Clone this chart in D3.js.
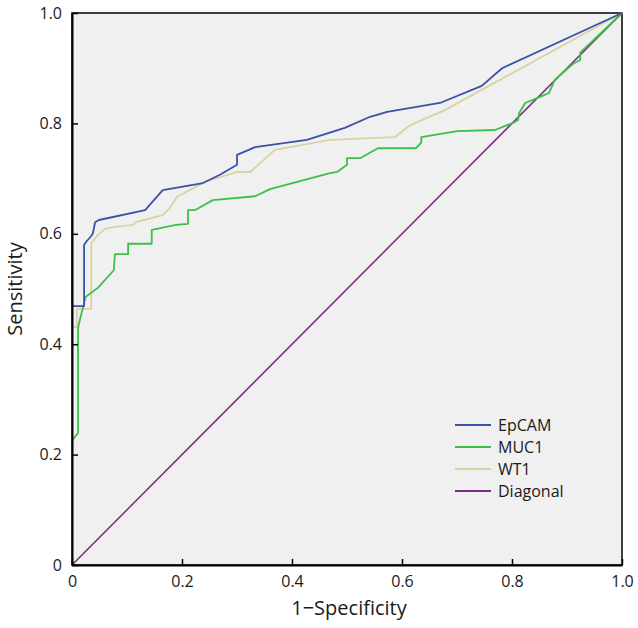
<!DOCTYPE html>
<html><head><meta charset="utf-8">
<script src="https://cdn.jsdelivr.net/npm/d3@7"></script>
<style>body{margin:0;background:#fff;} text{font-family:"Open Sans","Noto Sans",sans-serif;fill:#1a1a1a;}</style>
</head><body>
<svg id="chart" width="638" height="628"></svg>
<script>
const epcamFPR = [0,0,0.022,0.022,0.027,0.035,0.038,0.042,0.049,0.133,0.165,0.238,0.269,0.300,0.300,0.333,0.427,0.496,0.542,0.573,0.669,0.745,0.782,1];
const epcamTPR = [0,0.469,0.469,0.580,0.587,0.596,0.601,0.621,0.625,0.643,0.679,0.692,0.707,0.725,0.743,0.757,0.770,0.792,0.812,0.821,0.837,0.868,0.900,1];

const muc1FPR = [0,0,0.011,0.011,0.015,0.025,0.047,0.076,0.078,0.102,0.102,0.145,0.145,0.189,0.211,0.211,0.224,0.256,0.333,0.360,0.469,0.482,0.500,0.500,0.524,0.556,0.625,0.635,0.635,0.700,0.769,0.802,0.811,0.813,0.824,0.851,0.867,0.878,0.911,0.924,0.924,1];
const muc1TPR = [0,0.226,0.239,0.429,0.447,0.486,0.502,0.534,0.563,0.563,0.582,0.582,0.607,0.616,0.618,0.643,0.643,0.661,0.668,0.681,0.710,0.712,0.725,0.737,0.737,0.755,0.755,0.765,0.775,0.786,0.788,0.801,0.806,0.819,0.837,0.848,0.855,0.879,0.908,0.915,0.928,1];

const wt1FPR = [0,0,0.009,0.009,0.035,0.035,0.047,0.060,0.075,0.111,0.116,0.165,0.178,0.191,0.242,0.300,0.324,0.369,0.469,0.587,0.615,0.678,0.705,1];
const wt1TPR = [0,0.431,0.431,0.464,0.464,0.583,0.598,0.609,0.612,0.616,0.621,0.634,0.647,0.667,0.694,0.712,0.712,0.752,0.770,0.775,0.797,0.824,0.839,1];

const diagFPR = [0,1];
const diagTPR = [0,1];

const seriesNames = ["EpCAM","MUC1","WT1","Diagonal"];
const seriesColors = ["#3b52a8","#3dbf4a","#d9d2a3","#7a2a82"];
const tickValues = [0,0.2,0.4,0.6,0.8,1.0];
const tickLabels = ["0","0.2","0.4","0.6","0.8","1.0"];

const svg = d3.select("#chart");
const L = 72, R = 622, T = 13, B = 565;
const x = d3.scaleLinear().domain([0,1]).range([L,R]);
const y = d3.scaleLinear().domain([0,1]).range([B,T]);

svg.append("rect").attr("x",L).attr("y",T).attr("width",R-L).attr("height",B-T)
  .attr("fill","#f0f0f0").attr("stroke","#000").attr("stroke-width",1.5);

const series = [
  {name:seriesNames[0], fx:epcamFPR, ty:epcamTPR, c:seriesColors[0]},
  {name:seriesNames[1], fx:muc1FPR, ty:muc1TPR, c:seriesColors[1]},
  {name:seriesNames[2], fx:wt1FPR, ty:wt1TPR, c:seriesColors[2]},
  {name:seriesNames[3], fx:diagFPR, ty:diagTPR, c:seriesColors[3]}
];
const line = d3.line().x(d=>x(d[0])).y(d=>y(d[1]));
[3,2,1,0].forEach(i=>{
  const s = series[i];
  svg.append("path").datum(s.fx.map((v,k)=>[v,s.ty[k]]))
    .attr("d",line).attr("fill","none").attr("stroke",s.c)
    .attr("stroke-width",i===3?1.5:1.8).attr("stroke-linejoin","round");
});

const xAxis = d3.axisBottom(x).tickValues(tickValues).tickFormat((d,i)=>tickLabels[i]).tickSizeInner(-6).tickSizeOuter(0).tickPadding(11);
const gx = svg.append("g").attr("transform",`translate(0,${B})`).call(xAxis);
gx.select(".domain").attr("stroke","#000").attr("stroke-width",2);
gx.selectAll(".tick line").attr("stroke","#000").attr("stroke-width",1.5);
gx.selectAll("text").style("font-size","16px").attr("fill","#1a1a1a");

const yAxis = d3.axisLeft(y).tickValues(tickValues).tickFormat((d,i)=>tickLabels[i]).tickSizeInner(-6).tickSizeOuter(0).tickPadding(10);
const gy = svg.append("g").attr("transform",`translate(${L},0)`).call(yAxis);
gy.select(".domain").attr("stroke","#000").attr("stroke-width",2);
gy.selectAll(".tick line").attr("stroke","#000").attr("stroke-width",1.5);
gy.selectAll("text").style("font-size","16px").attr("fill","#1a1a1a");

svg.append("text").attr("x",(L+R)/2+2).attr("y",615).attr("text-anchor","middle")
  .style("font-size","20px").text("1\u2212Specificity");
svg.append("text").attr("transform",`translate(22,${(T+B)/2}) rotate(-90)`).attr("text-anchor","middle")
  .style("font-size","20px").text("Sensitivity");

const lg = svg.append("g");
series.forEach((s,i)=>{
  const yy = 425 + i*22;
  lg.append("line").attr("x1",455).attr("x2",491).attr("y1",yy).attr("y2",yy)
    .attr("stroke",s.c).attr("stroke-width",1.8);
  lg.append("text").attr("x",498).attr("y",yy).attr("dy","0.35em")
    .style("font-size","16px").text(s.name);
});
</script>
</body></html>
